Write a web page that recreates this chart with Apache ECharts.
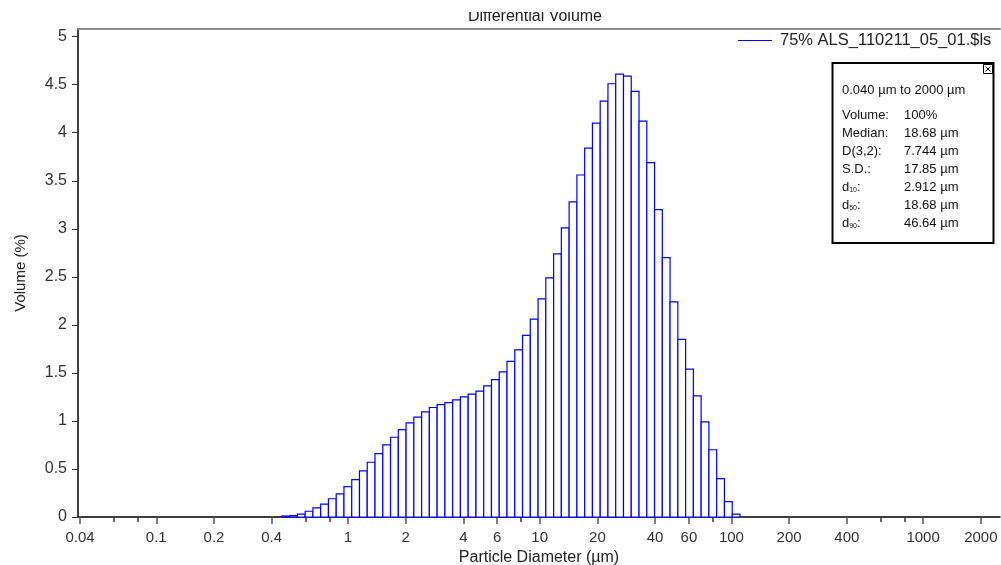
<!DOCTYPE html>
<html>
<head>
<meta charset="utf-8">
<title>Differential Volume</title>
<script src="https://cdn.jsdelivr.net/npm/echarts@6/dist/echarts.min.js"></script>
<style>
  html, body { margin: 0; padding: 0; background: #fff; }
  #chart { width: 1001px; height: 565px; }
</style>
</head>
<body>
<div id="chart"></div>
<script>
// channel edges (µm) of the non-empty channels
const binEdges = [0.4519, 0.4961, 0.5446, 0.5978, 0.6562, 0.7203, 0.7907, 0.868, 0.9528,
  1.046, 1.148, 1.26, 1.383, 1.519, 1.667, 1.83, 2.009, 2.205, 2.421, 2.657, 2.917, 3.202,
  3.515, 3.859, 4.236, 4.65, 5.105, 5.604, 6.152, 6.753, 7.413, 8.137, 8.933, 9.806,
  10.76, 11.82, 12.97, 14.24, 15.63, 17.16, 18.84, 20.68, 22.7, 24.92, 27.36, 30.03,
  32.97, 36.19, 39.73, 43.61, 47.87, 52.55, 57.69, 63.33, 69.52, 76.32, 83.78, 91.97,
  101, 110.8]

// volume % per channel
const volume = [0.01, 0.015, 0.03, 0.06, 0.094, 0.135, 0.19, 0.24, 0.316, 0.39,
  0.48, 0.57, 0.66, 0.75, 0.83, 0.91, 0.98, 1.04, 1.094, 1.14, 1.17, 1.19, 1.22,
  1.25, 1.28, 1.31, 1.365, 1.43, 1.51, 1.62, 1.74, 1.89, 2.06, 2.27, 2.49, 2.74,
  3.01, 3.28, 3.56, 3.84, 4.10, 4.33, 4.51, 4.61, 4.59, 4.43, 4.12, 3.69, 3.20,
  2.70, 2.24, 1.85, 1.54, 1.26, 0.99, 0.70, 0.40, 0.16, 0.03]

const xMajorTicks = [0.04, 0.1, 0.2, 0.4, 1, 2, 4, 6, 10, 20, 40, 60, 100, 200, 400, 1000, 2000]
const xMinorTicks = [0.06, 0.08, 0.6, 0.8, 8, 80, 600, 800]
const yTicks = [0, 0.5, 1, 1.5, 2, 2.5, 3, 3.5, 4, 4.5, 5]

const seriesName = '75% ALS_110211_05_01.$ls'
const statLabels = ['Volume:', 'Median:', 'D(3,2):', 'S.D.:', '{n|d}{s|10}{n|:}', '{n|d}{s|50}{n|:}', '{n|d}{s|90}{n|:}']
const statValues = ['100%', '18.68 µm', '7.744 µm', '17.85 µm', '2.912 µm', '18.68 µm', '46.64 µm']

const xMin = 0.03905
const xMax = 2518
const FONT = 'Liberation Sans, Arial, sans-serif'

const chart = echarts.init(document.getElementById('chart'))

const bins = volume.map((v, i) => [binEdges[i], binEdges[i + 1], v])

// info box
const boxX = 832.5
const boxY = 63
const infoItems = [
  { type: 'rect', shape: { x: boxX, y: boxY, width: 161, height: 180 }, style: { fill: '#fff', stroke: '#000', lineWidth: 2 } },
  { type: 'rect', shape: { x: 983.5, y: 64.5, width: 9, height: 9 }, style: { fill: '#fff', stroke: '#000', lineWidth: 1 } },
  { type: 'polyline', shape: { points: [[985.5, 66.5], [990.5, 71.5]] }, style: { stroke: '#000', lineWidth: 1 } },
  { type: 'polyline', shape: { points: [[990.5, 66.5], [985.5, 71.5]] }, style: { stroke: '#000', lineWidth: 1 } },
  { type: 'text', x: 842, y: 90, style: { text: '0.040 µm to 2000 µm', font: '13px ' + FONT, fill: '#111', verticalAlign: 'middle' } }
]
statLabels.forEach((t, i) => {
  infoItems.push({
    type: 'text', x: 842, y: 115 + i * 18,
    style: {
      text: t, font: '13px ' + FONT, fill: '#111', verticalAlign: 'middle',
      rich: { n: { fontSize: 13, fontFamily: FONT }, s: { fontSize: 7, fontFamily: FONT, verticalAlign: 'bottom' } }
    }
  })
  infoItems.push({
    type: 'text', x: 904, y: 115 + i * 18,
    style: { text: statValues[i], font: '13px ' + FONT, fill: '#111', verticalAlign: 'middle' }
  })
})

chart.setOption({
  animation: false,
  textStyle: { fontFamily: FONT },
  title: {
    text: 'Differential Volume',
    left: 468,
    top: 9,
    padding: 0,
    textStyle: { fontSize: 16, fontWeight: 'normal', color: '#222' }
  },
  legend: {
    left: 733,
    top: 27,
    itemWidth: 34,
    itemHeight: 1,
    textStyle: { fontSize: 16.5, color: '#222', padding: [0, 0, 0, 3] },
    data: [{ name: seriesName, icon: 'rect', itemStyle: { color: '#0000ff' } }]
  },
  grid: { left: 78, right: 1, top: 29, bottom: 48, outerBoundsMode: 'none', containLabel: false },
  xAxis: [
    {
      type: 'log',
      min: xMin,
      max: xMax,
      name: 'Particle Diameter (µm)',
      nameLocation: 'middle',
      nameGap: 31,
      nameTextStyle: { fontSize: 16, color: '#222' },
      axisLine: { lineStyle: { color: '#000', width: 1.5 } },
      axisTick: { customValues: xMajorTicks, length: 7, lineStyle: { color: '#555', width: 1.5 } },
      axisLabel: {
        customValues: xMajorTicks,
        margin: 13,
        fontSize: 15,
        color: '#333',
        formatter: v => String(parseFloat(Number(v).toPrecision(4)))
      },
      splitLine: { show: false }
    },
    {
      type: 'log',
      min: xMin,
      max: xMax,
      position: 'bottom',
      axisLine: { show: false },
      axisTick: { customValues: xMinorTicks, length: 5, lineStyle: { color: '#333', width: 1.5 } },
      axisLabel: { show: false },
      splitLine: { show: false }
    },
    {
      type: 'log',
      min: xMin,
      max: xMax,
      position: 'top',
      axisLine: { lineStyle: { color: '#8c8c8c', width: 2 } },
      axisTick: { show: false },
      axisLabel: { show: false },
      splitLine: { show: false }
    }
  ],
  yAxis: {
    type: 'value',
    min: 0,
    max: 5.08,
    name: 'Volume (%)',
    nameLocation: 'middle',
    nameGap: 50,
    nameTextStyle: { fontSize: 15, color: '#222' },
    axisLine: { show: true, lineStyle: { color: '#000', width: 1.5 } },
    axisTick: { show: true, customValues: yTicks, length: 6, lineStyle: { color: '#333' } },
    axisLabel: { customValues: yTicks, margin: 11, fontSize: 16, color: '#333' },
    splitLine: { show: false }
  },
  series: [{
    name: seriesName,
    type: 'custom',
    xAxisIndex: 0,
    yAxisIndex: 0,
    itemStyle: { color: '#0000ff' },
    encode: { x: [0, 1], y: 2 },
    data: bins,
    renderItem: (params, api) => {
      const p0 = api.coord([api.value(0), api.value(2)])
      const p1 = api.coord([api.value(1), 0])
      return {
        type: 'rect',
        shape: { x: p0[0], y: p0[1], width: p1[0] - p0[0], height: p1[1] - p0[1] },
        style: { fill: '#fff', stroke: '#0000ff', lineWidth: 1.2 }
      }
    }
  }],
  graphic: [
    // the original title is cut off at the top
    { type: 'rect', z: 100, shape: { x: 440, y: 0, width: 200, height: 12 }, style: { fill: '#fff' } },
    ...infoItems.map(it => Object.assign({ z: 50 }, it))
  ]
})
</script>
</body>
</html>
